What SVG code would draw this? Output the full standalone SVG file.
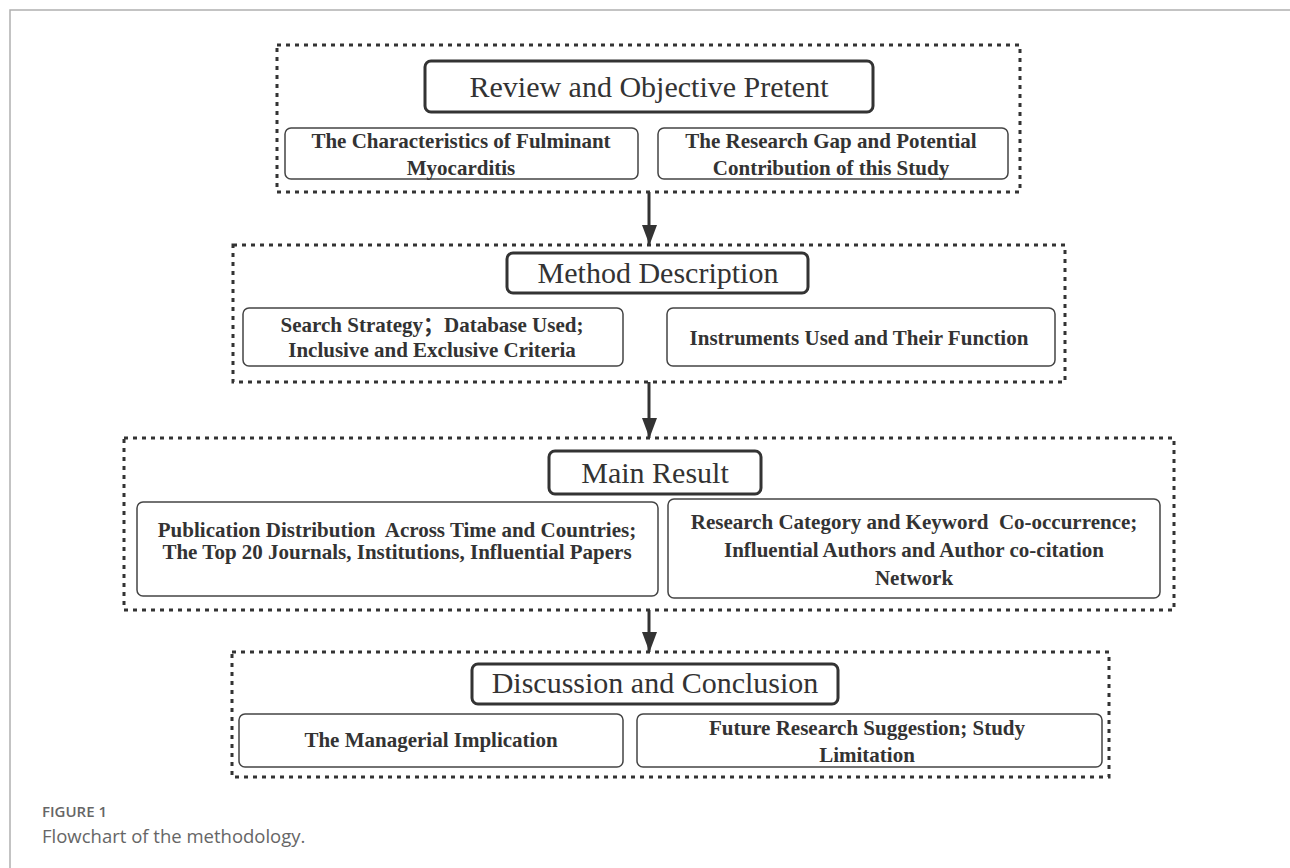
<svg xmlns="http://www.w3.org/2000/svg" width="1290" height="868" viewBox="0 0 1290 868">
<defs>
<style>
.frame{fill:none;stroke:#b0b0b0;stroke-width:1.5}
.sect{fill:none;stroke:#333;stroke-width:3;stroke-dasharray:4 5}
.title{fill:#fff;stroke:#333;stroke-width:3}
.sub{fill:#fff;stroke:#444;stroke-width:1.5}
.tt{font-family:"Liberation Serif","Times New Roman",serif;font-size:30px;fill:#333;text-anchor:middle}
.st{font-family:"Liberation Serif","Times New Roman","Noto Sans CJK SC",serif;font-size:21px;font-weight:bold;fill:#333;text-anchor:middle}
.conn{stroke:#333;stroke-width:3;fill:none}
.cap1{font-family:"Open Sans","Noto Sans",sans-serif;font-size:15px;font-weight:600;fill:#666}
.cap2{font-family:"Open Sans","Noto Sans",sans-serif;font-size:18.5px;fill:#666}
</style>
<marker id="ah" markerUnits="userSpaceOnUse" markerWidth="22" markerHeight="16" refX="20" refY="8" orient="auto">
<path d="M0,0 L20,7.5 L0,15 z" fill="#333"/>
</marker>
</defs>
<rect width="1290" height="868" fill="#fff"/>
<path class="frame" d="M10,868 L10,10 L1290,10"/>

<g id="sec1">
<rect class="sect" x="277" y="45" width="743" height="147"/>
<g id="n1">
<rect class="title" x="425" y="61" width="448" height="51" rx="6"/>
<text class="tt" x="649" y="97">Review and Objective Pretent</text>
</g>
<g id="n1a">
<rect class="sub" x="285" y="128" width="353" height="51" rx="6"/>
<text class="st" x="461" y="148">The Characteristics of Fulminant</text>
<text class="st" x="461" y="175">Myocarditis</text>
</g>
<g id="n1b">
<rect class="sub" x="658" y="128" width="350" height="51" rx="6"/>
<text class="st" x="831" y="148">The Research Gap and Potential</text>
<text class="st" x="831" y="175">Contribution of this Study</text>
</g>
</g>

<g id="sec2">
<rect class="sect" x="233" y="245" width="832" height="137"/>
<g id="n2">
<rect class="title" x="507" y="253" width="301" height="40" rx="6"/>
<text class="tt" x="658" y="283">Method Description</text>
</g>
<g id="n2a">
<rect class="sub" x="243" y="308" width="380" height="58" rx="6"/>
<text class="st" x="432" y="332">Search Strategy；Database Used;</text>
<text class="st" x="432" y="357">Inclusive and Exclusive Criteria</text>
</g>
<g id="n2b">
<rect class="sub" x="667" y="308" width="388" height="58" rx="6"/>
<text class="st" x="859" y="345">Instruments Used and Their Function</text>
</g>
</g>

<g id="sec3">
<rect class="sect" x="124" y="438" width="1050" height="172"/>
<g id="n3">
<rect class="title" x="549" y="451" width="212" height="43" rx="6"/>
<text class="tt" x="655" y="483">Main Result</text>
</g>
<g id="n3a">
<rect class="sub" x="137" y="502" width="521" height="94" rx="6"/>
<text class="st" x="397" y="537" xml:space="preserve">Publication Distribution  Across Time and Countries;</text>
<text class="st" x="397" y="559">The Top 20 Journals, Institutions, Influential Papers</text>
</g>
<g id="n3b">
<rect class="sub" x="668" y="499" width="492" height="99" rx="6"/>
<text class="st" x="914" y="529" xml:space="preserve">Research Category and Keyword  Co-occurrence;</text>
<text class="st" x="914" y="557">Influential Authors and Author co-citation</text>
<text class="st" x="914" y="585">Network</text>
</g>
</g>

<g id="sec4">
<rect class="sect" x="232" y="652" width="877" height="125"/>
<g id="n4">
<rect class="title" x="472" y="664" width="366" height="40" rx="6"/>
<text class="tt" x="655" y="693">Discussion and Conclusion</text>
</g>
<g id="n4a">
<rect class="sub" x="239" y="714" width="384" height="53" rx="6"/>
<text class="st" x="431" y="747">The Managerial Implication</text>
</g>
<g id="n4b">
<rect class="sub" x="637" y="714" width="465" height="53" rx="6"/>
<text class="st" x="867" y="735">Future Research Suggestion; Study</text>
<text class="st" x="867" y="762">Limitation</text>
</g>
</g>

<g id="connectors">
<line class="conn" x1="649" y1="192" x2="649" y2="245" marker-end="url(#ah)"/>
<line class="conn" x1="649" y1="382" x2="649" y2="438" marker-end="url(#ah)"/>
<line class="conn" x1="649" y1="610" x2="649" y2="652" marker-end="url(#ah)"/>
</g>

<text class="cap1" x="42" y="817">FIGURE 1</text>
<text class="cap2" x="42" y="843">Flowchart of the methodology.</text>
</svg>
